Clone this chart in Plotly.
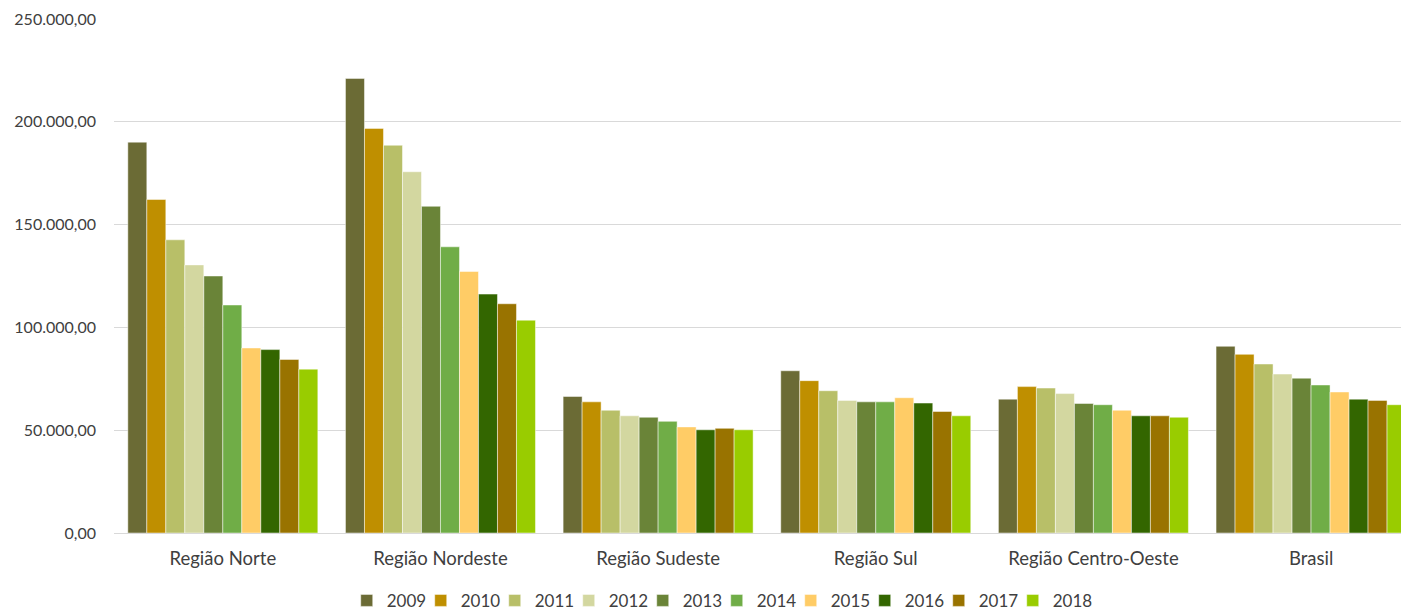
import plotly.graph_objects as go

categories = ["Região Norte", "Região Nordeste", "Região Sudeste", "Região Sul", "Região Centro-Oeste", "Brasil"]
years = ["2009", "2010", "2011", "2012", "2013", "2014", "2015", "2016", "2017", "2018"]

v2009 = [190100, 221100, 66400, 78900, 65100, 90800]
v2010 = [162200, 196800, 63800, 74100, 71200, 86900]
v2011 = [142600, 188600, 59700, 69200, 70500, 82200]
v2012 = [130400, 175700, 57000, 64500, 67800, 77300]
v2013 = [125000, 158900, 56300, 63800, 63000, 75300]
v2014 = [110900, 139200, 54300, 63800, 62400, 72000]
v2015 = [90000, 127200, 51600, 65800, 59700, 68600]
v2016 = [89200, 116200, 50200, 63200, 57000, 65100]
v2017 = [84400, 111500, 50900, 59100, 57000, 64500]
v2018 = [79700, 103500, 50200, 57000, 56300, 62400]

series = [v2009, v2010, v2011, v2012, v2013, v2014, v2015, v2016, v2017, v2018]
colors = ["#6B6B35", "#BF8F00", "#B8BF68", "#D3D7A0", "#6A8438",
          "#70AD47", "#FFCC66", "#336600", "#997300", "#99CC00"]

fig = go.Figure()
for y, vals, c in zip(years, series, colors):
    fig.add_trace(go.Bar(
        name=y, x=categories, y=vals,
        marker=dict(color=c, line=dict(color="rgba(255,255,255,0.6)", width=0.8)),
    ))

# empty spacer entry so the last legend label is not clipped
fig.add_trace(go.Scatter(x=[None], y=[None], name=" ", mode="markers",
                         marker=dict(color="rgba(0,0,0,0)"), hoverinfo="skip"))

font_family = "Lato, 'Open Sans', sans-serif"
fig.update_layout(
    width=1401, height=603,
    barmode="group", bargap=0.127, bargroupgap=0,
    separators=",.",
    paper_bgcolor="white", plot_bgcolor="white",
    margin=dict(l=106, r=0, t=11, b=78, autoexpand=False),
    font=dict(family=font_family, size=16, color="#404040"),
    xaxis=dict(showgrid=False, showline=False, ticks="", automargin=False,
               range=[-0.5, 5.45], ticklabelstandoff=12,
               tickfont=dict(size=18.5, color="#404040")),
    yaxis=dict(range=[0, 250000], dtick=50000, tickformat=",.2f", automargin=False,
               showgrid=True, gridcolor="#D9D9D9", gridwidth=1,
               zeroline=True, zerolinecolor="#D9D9D9", zerolinewidth=1,
               showline=False, ticks="", ticklabelstandoff=17,
               tickfont=dict(size=16, color="#404040")),
    legend=dict(orientation="h", x=0.494, xanchor="center", y=-0.132, yanchor="middle",
                font=dict(size=17, color="#404040"), itemwidth=30, entrywidth=29,
                traceorder="normal"),
)

fig.write_html("out.html")
